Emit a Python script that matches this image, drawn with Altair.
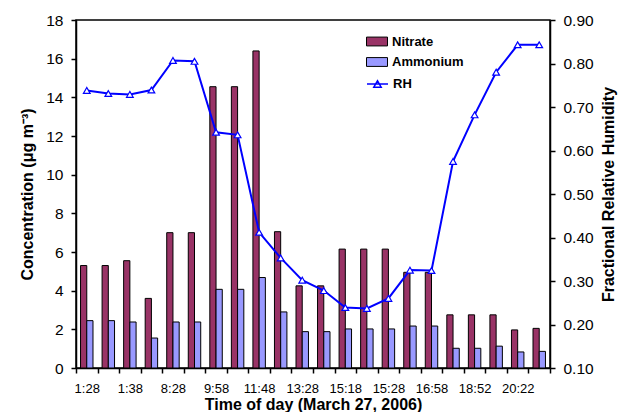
import json
import altair as alt
import pandas as pd

# ---- data ----
tick_labels = ["1:28", "1:38", "8:28", "9:58", "11:48", "13:28",
               "15:18", "15:28", "16:58", "18:52", "20:22"]
series_names = ["Nitrate", "Ammonium"]
nitrate = [5.3, 5.3, 5.55, 3.6, 7.0, 7.0, 14.55, 14.55, 16.4, 7.05, 4.25,
           4.25, 6.15, 6.15, 6.15, 4.95, 4.95, 2.75, 2.75, 2.75, 1.97, 2.05]
ammonium = [2.45, 2.45, 2.38, 1.55, 2.38, 2.38, 4.07, 4.07, 4.68, 2.9, 1.88,
            1.88, 2.02, 2.02, 2.02, 2.17, 2.17, 1.02, 1.02, 1.13, 0.83, 0.86]
rh = [0.738, 0.731, 0.729, 0.739, 0.807, 0.805, 0.642, 0.636, 0.412, 0.353,
      0.302, 0.278, 0.239, 0.237, 0.260, 0.325, 0.324, 0.575, 0.682, 0.780,
      0.843, 0.843]

n = len(nitrate)
bar_rows = []
for i in range(n):
    bar_rows.append({"idx": i, "series": "Nitrate", "value": nitrate[i]})
    bar_rows.append({"idx": i, "series": "Ammonium", "value": ammonium[i]})
bar_df = pd.DataFrame(bar_rows)
rh_df = pd.DataFrame({"idx": list(range(n)), "rh": rh, "name": ["RH"] * n})

FONT = "Liberation Sans"
label_expr = "datum.value % 2 == 0 ? " + json.dumps(tick_labels) + "[datum.value / 2] : ''"

x_enc = alt.X(
    "idx:O",
    scale=alt.Scale(paddingInner=0, paddingOuter=0),
    axis=alt.Axis(
        title="Time of day (March 27, 2006)",
        labelExpr=label_expr, labelAngle=0, labelOverlap=False,
        tickBand="extent", labelFontSize=13, labelPadding=9,
        titleFontSize=16, titlePadding=1,
    ),
)

bars = alt.Chart(bar_df).mark_bar(stroke="black", strokeWidth=1).encode(
    x=x_enc,
    xOffset=alt.XOffset("series:N",
                        scale=alt.Scale(domain=series_names, paddingOuter=0.73, paddingInner=0)),
    y=alt.Y("value:Q",
            scale=alt.Scale(domain=[0, 18], nice=False),
            axis=alt.Axis(values=list(range(0, 19, 2)), title="Concentration (μg m⁻³)",
                          labelFontSize=15.5, labelPadding=8, titleFontSize=16,
                          titlePadding=10)),
    color=alt.Color("series:N",
                    scale=alt.Scale(domain=series_names, range=["#993366", "#9999FF"]),
                    legend=alt.Legend(title=None, orient="none", legendX=290, legendY=10.5,
                                      symbolType="M-1,-0.42H1V0.42H-1Z", symbolSize=441,
                                      symbolStrokeColor="black", symbolStrokeWidth=1,
                                      labelFont=FONT, labelFontSize=13, labelFontWeight="bold",
                                      labelOffset=4, rowPadding=2.5, padding=0)),
)

rh_axis = alt.Axis(orient="right", format=".2f",
                   values=[0.1, 0.2, 0.3, 0.4, 0.5, 0.6, 0.7, 0.8, 0.9],
                   title="Fractional Relative Humidity", titleAngle=270,
                   titleBaseline="top",
                   labelFontSize=15.5, labelPadding=8, titleFontSize=16, titlePadding=7)

line = alt.Chart(rh_df).mark_line(strokeWidth=2).encode(
    x="idx:O",
    y=alt.Y("rh:Q", scale=alt.Scale(domain=[0.1, 0.9], nice=False), axis=rh_axis),
    stroke=alt.Stroke("name:N",
                      scale=alt.Scale(domain=["RH"], range=["#0000FF"]),
                      legend=alt.Legend(title=None, orient="none", legendX=290, legendY=52.5,
                                        symbolType="M-1,0H1M-0.35,0.3L0,-0.3L0.35,0.3Z",
                                        symbolSize=441, symbolStrokeWidth=1.5,
                                        labelFont=FONT, labelFontSize=13, labelFontWeight="bold",
                                        labelOffset=4, padding=0)),
)

pts = alt.Chart(rh_df).mark_point(shape="triangle-up", filled=True, fill="white",
                                  stroke="#0000FF", strokeWidth=1.2, size=45,
                                  opacity=1).encode(
    x="idx:O",
    y=alt.Y("rh:Q", scale=alt.Scale(domain=[0.1, 0.9], nice=False), axis=None),
)

chart = alt.layer(bars, line, pts).resolve_scale(
    y="independent", color="independent", stroke="independent"
).properties(
    width=474, height=348,
    autosize=alt.AutoSizeParams(type="none"),
    padding={"left": 68, "top": 12, "right": 70, "bottom": 44},
).configure_view(
    stroke="black", strokeWidth=1.5
).configure_axis(
    labelFont=FONT, titleFont=FONT, labelColor="black", titleColor="black",
    titleFontWeight="bold", domainColor="black", domainWidth=1.5,
    tickColor="black", tickWidth=1.5, tickSize=5, grid=False,
)

chart.save("out.html", embed_options={"renderer": "svg", "actions": False})
